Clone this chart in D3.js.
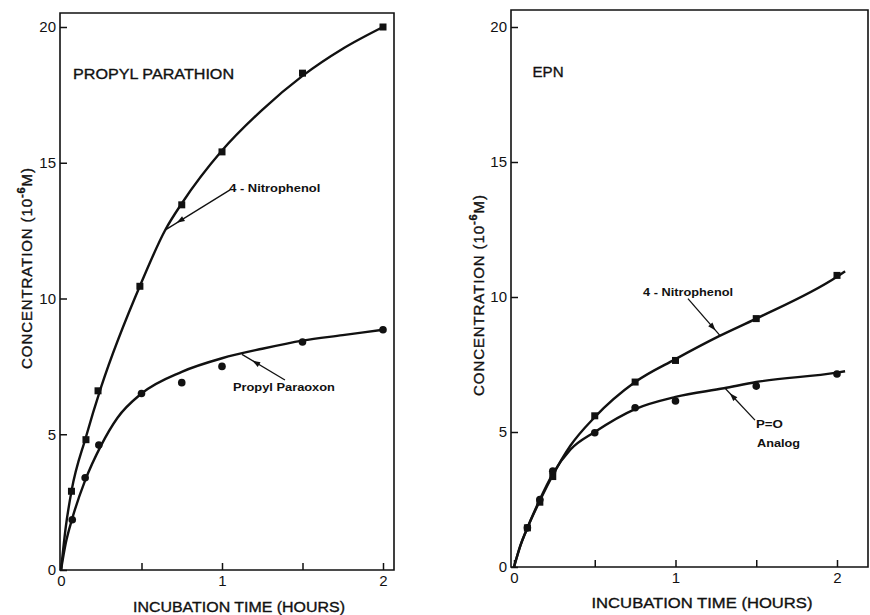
<!DOCTYPE html>
<html>
<head>
<meta charset="utf-8">
<script src="https://cdn.jsdelivr.net/npm/d3@7"></script>
<style>
  html, body { margin: 0; padding: 0; background: #fff; }
  svg { display: block; font-family: "Liberation Sans", Arial, sans-serif; }
</style>
</head>
<body>
<div id="chart"></div>
<script>
// Propyl parathion panel - measured points
const ppNitroTime = [0.065, 0.155, 0.23, 0.49, 0.75, 1, 1.5, 2];
const ppNitroConc = [2.9, 4.8, 6.6, 10.45, 13.45, 15.4, 18.3, 20.0];
const ppOxonTime = [0.07, 0.15, 0.235, 0.5, 0.75, 1, 1.5, 2];
const ppOxonConc = [1.85, 3.4, 4.6, 6.5, 6.9, 7.5, 8.4, 8.85];

// Propyl parathion panel - hand drawn fitted curves
const ppNitroCurveTime = [0, 0.03, 0.065, 0.155, 0.25, 0.5, 0.65, 0.75, 1, 1.25, 1.5, 1.75, 2];
const ppNitroCurveConc = [0, 1.6, 2.9, 4.9, 6.75, 10.6, 12.55, 13.5, 15.45, 16.95, 18.2, 19.2, 20.0];
const ppOxonCurveTime = [0, 0.03, 0.07, 0.15, 0.25, 0.35, 0.5, 0.75, 1, 1.25, 1.5, 1.75, 2];
const ppOxonCurveConc = [0, 1.0, 1.9, 3.3, 4.6, 5.6, 6.5, 7.3, 7.8, 8.15, 8.45, 8.65, 8.85];

// EPN panel - measured points
const epnTime = [0.083, 0.16, 0.24, 0.5, 0.75, 1, 1.5, 2];
const epnNitroConc = [1.45, 2.4, 3.35, 5.6, 6.85, 7.65, 9.2, 10.8];
const epnOxonConc = [1.45, 2.5, 3.55, 4.97, 5.9, 6.15, 6.7, 7.15];

// EPN panel - fitted curves
const epnNitroCurveTime = [0, 0.04, 0.083, 0.16, 0.24, 0.35, 0.5, 0.75, 1, 1.27, 1.5, 2, 2.05];
const epnNitroCurveConc = [0, 0.8, 1.45, 2.45, 3.4, 4.5, 5.55, 6.85, 7.7, 8.55, 9.2, 10.75, 10.95];
const epnOxonCurveTime = [0, 0.04, 0.083, 0.16, 0.24, 0.35, 0.5, 0.75, 1, 1.3, 1.5, 2, 2.05];
const epnOxonCurveConc = [0, 0.8, 1.45, 2.5, 3.45, 4.35, 5.0, 5.85, 6.3, 6.62, 6.85, 7.2, 7.25];

// axis ticks
const xTicks = [0, 0.5, 1, 1.5, 2];
const xTickLabels = { 0: '0', 1: '1', 2: '2' };
const yTicks = [0, 5, 10, 15, 20];

const width = 870, height = 615;

const svg = d3.select('#chart')
  .append('svg')
  .attr('width', width)
  .attr('height', height);

const zip = (a, b) => a.map((d, i) => [d, b[i]]);

// the print is a bit heavier than the plain font
const heavy = s => s.attr('stroke', '#111').attr('stroke-width', 0.35);

function drawPanel(p) {
  const x = d3.scaleLinear().domain([0, 2]).range([p.x0, p.x2]);
  const y = d3.scaleLinear().domain([0, 20]).range([p.y0, p.y20]);
  const g = svg.append('g');

  // frame
  g.append('path')
    .attr('d', `M${p.left},${p.y0}V${p.top}H${p.right}V${p.y0}Z`)
    .attr('fill', 'none')
    .attr('stroke', '#111')
    .attr('stroke-width', 1.6);

  // y axis (ticks inward)
  const yAxis = d3.axisLeft(y)
    .tickValues(yTicks)
    .tickSize(-7)
    .tickSizeOuter(0)
    .tickPadding(4)
    .tickFormat(d3.format('d'));
  g.append('g')
    .attr('transform', `translate(${p.left},0)`)
    .call(yAxis)
    .call(s => s.select('.domain').remove())
    .call(s => s.selectAll('line').attr('stroke', '#111').attr('stroke-width', 1.5))
    .call(s => s.selectAll('text')
      .attr('fill', '#111')
      .style('font-size', '15px'));

  // x axis
  const xAxis = d3.axisBottom(x)
    .tickValues(xTicks)
    .tickSize(-7)
    .tickSizeOuter(0)
    .tickPadding(5)
    .tickFormat(d => xTickLabels[d] || '');
  g.append('g')
    .attr('transform', `translate(0,${p.y0})`)
    .call(xAxis)
    .call(s => s.select('.domain').remove())
    .call(s => s.selectAll('line').attr('stroke', '#111').attr('stroke-width', 1.5))
    .call(s => s.selectAll('text')
      .attr('fill', '#111')
      .style('font-size', '15px'));

  // curves
  const line = d3.line()
    .x(d => x(d[0]))
    .y(d => y(d[1]))
    .curve(d3.curveMonotoneX);

  p.curves.forEach(c => {
    g.append('path')
      .datum(zip(c.t, c.v))
      .attr('fill', 'none')
      .attr('stroke', '#111')
      .attr('stroke-width', 2.4)
      .attr('d', line);
  });

  // points
  p.squares.forEach(s => {
    g.selectAll(null)
      .data(zip(s.t, s.v))
      .enter()
      .append('rect')
      .attr('x', d => x(d[0]) - 3.5)
      .attr('y', d => y(d[1]) - 3.5)
      .attr('width', 7)
      .attr('height', 7)
      .attr('fill', '#111');
  });
  p.circles.forEach(s => {
    g.selectAll(null)
      .data(zip(s.t, s.v))
      .enter()
      .append('circle')
      .attr('cx', d => x(d[0]))
      .attr('cy', d => y(d[1]))
      .attr('r', 3.8)
      .attr('fill', '#111');
  });

  // title
  g.append('text')
    .attr('x', x(p.title.t))
    .attr('y', y(p.title.v))
    .attr('textLength', p.title.len)
    .attr('lengthAdjust', 'spacingAndGlyphs')
    .style('font-size', '15px')
    .attr('fill', '#111')
    .call(heavy)
    .text(p.title.text);

  // labels with arrows
  p.notes.forEach(n => {
    n.lines.forEach(l => {
      g.append('text')
        .attr('x', x(l.t))
        .attr('y', y(l.v))
        .attr('textLength', l.len)
        .attr('lengthAdjust', 'spacingAndGlyphs')
        .style('font-size', '11px')
        .style('font-weight', 'bold')
        .attr('fill', '#111')
        .text(l.text);
    });
    const x1 = x(n.from[0]), y1 = y(n.from[1]);
    const x2 = x(n.to[0]), y2 = y(n.to[1]);
    g.append('line')
      .attr('x1', x1).attr('y1', y1)
      .attr('x2', x2).attr('y2', y2)
      .attr('stroke', '#111')
      .attr('stroke-width', 1.3);
    // arrow head part way down the line
    const ang = Math.atan2(y2 - y1, x2 - x1);
    const hx = x1 + (x2 - x1) * n.head, hy = y1 + (y2 - y1) * n.head;
    const L = 8, W = 2.8;
    const bx = hx - L * Math.cos(ang), by = hy - L * Math.sin(ang);
    g.append('path')
      .attr('d', `M${hx},${hy}L${bx - W * Math.sin(ang)},${by + W * Math.cos(ang)}L${bx + W * Math.sin(ang)},${by - W * Math.cos(ang)}Z`)
      .attr('fill', '#111');
  });

  // axis titles
  g.append('text')
    .attr('x', p.xLabel[0])
    .attr('y', p.xLabel[1])
    .attr('text-anchor', 'middle')
    .attr('textLength', p.xLabel[2])
    .attr('lengthAdjust', 'spacingAndGlyphs')
    .style('font-size', '15px')
    .attr('fill', '#111')
    .call(heavy)
    .text('INCUBATION TIME (HOURS)');

  const yl = g.append('text')
    .attr('transform', `translate(${p.yLabel[0]},${p.yLabel[1]}) rotate(-90)`)
    .attr('text-anchor', 'middle')
    .style('font-size', '15px')
    .style('letter-spacing', '0.9px')
    .attr('fill', '#111')
    .call(heavy);
  yl.append('tspan').text('CONCENTRATION (10');
  yl.append('tspan').attr('dy', -7).style('font-size', '11px').style('font-weight', 'bold').text('-6');
  yl.append('tspan').attr('dy', 7).text('M)');
}

drawPanel({
  x0: 61, x2: 383, y0: 570, y20: 27,
  left: 60, right: 394, top: 13,
  curves: [
    { t: ppNitroCurveTime, v: ppNitroCurveConc },
    { t: ppOxonCurveTime, v: ppOxonCurveConc }
  ],
  squares: [{ t: ppNitroTime, v: ppNitroConc }],
  circles: [{ t: ppOxonTime, v: ppOxonConc }],
  title: { text: 'PROPYL PARATHION', t: 0.075, v: 18.1, len: 161 },
  notes: [
    { lines: [{ text: '4 - Nitrophenol', t: 1.045, v: 13.92, len: 91 }],
      from: [1.05, 14.0], to: [0.646, 12.52], head: 0.82 },
    { lines: [{ text: 'Propyl Paraoxon', t: 1.068, v: 6.6, len: 102 }],
      from: [1.391, 7.0], to: [1.124, 7.94], head: 0.76 }
  ],
  xLabel: [239, 612, 212],
  yLabel: [32, 268]
});

drawPanel({
  x0: 514, x2: 837, y0: 567, y20: 27,
  left: 511, right: 868, top: 10,
  curves: [
    { t: epnNitroCurveTime, v: epnNitroCurveConc },
    { t: epnOxonCurveTime, v: epnOxonCurveConc }
  ],
  squares: [{ t: epnTime, v: epnNitroConc }],
  circles: [{ t: epnTime, v: epnOxonConc }],
  title: { text: 'EPN', t: 0.115, v: 18.16, len: 31 },
  notes: [
    { lines: [{ text: '4 - Nitrophenol', t: 0.799, v: 10.04, len: 90 }],
      from: [1.077, 9.94], to: [1.276, 8.57], head: 0.86 },
    { lines: [{ text: 'P=O', t: 1.498, v: 5.15, len: 27 },
              { text: 'Analog', t: 1.505, v: 4.44, len: 43 }],
      from: [1.492, 5.44], to: [1.307, 6.62], head: 0.84 }
  ],
  xLabel: [702, 608, 221],
  yLabel: [484, 295]
});
</script>
</body>
</html>
